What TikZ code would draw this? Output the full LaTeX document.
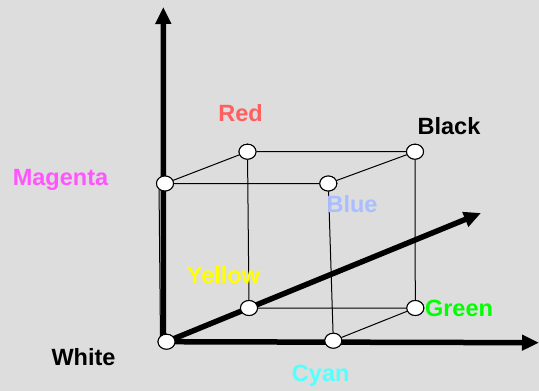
\documentclass[tikz,border=0pt]{standalone}
\usepackage{fontspec}
\setmainfont{Liberation Sans}
\usepackage{tikz}
\usetikzlibrary{arrows.meta, shapes.geometric, positioning}
\definecolor{nen}{RGB}{221,221,221}
\definecolor{mauDo}{RGB}{255,95,95}
\definecolor{mauHong}{RGB}{255,85,255}
\definecolor{mauLam}{RGB}{170,190,255}
\definecolor{mauVang}{RGB}{255,255,0}
\definecolor{mauLuc}{RGB}{0,255,0}
\definecolor{mauXanh}{RGB}{85,255,255}

\begin{document}
\begin{tikzpicture}[x=1pt, y=-1pt,
    dinh/.style={ellipse, draw, fill=white, line width=1pt, minimum width=17pt, minimum height=15pt, inner sep=0pt},
    canh/.style={line width=1pt},
    truc/.style={line width=5.5pt, -{Triangle[length=17pt,width=15pt]}},
    nhan/.style={anchor=base, font=\fontsize{23.5}{28}\selectfont\bfseries}]

            % Nền
            \fill[nen] (0,0) rectangle (539,391);
            \useasboundingbox (0,0) rectangle (539,391);

            % Đỉnh của hình lập phương
            \node[dinh] (W) at (166.5,341.7) {}; % White
            \node[dinh] (C) at (333.3,340.7) {}; % Cyan
            \node[dinh] (Y) at (249,308) {};     % Yellow
            \node[dinh] (G) at (415.3,308) {};   % Green
            \node[dinh] (M) at (165,183.5) {};   % Magenta
            \node[dinh] (B) at (328.3,183.5) {}; % Blue
            \node[dinh] (R) at (247.5,151.7) {}; % Red
            \node[dinh] (K) at (415,151.7) {};   % Black

            % Điểm cuối của trục
            \coordinate (tx) at (539,342.7);
            \coordinate (ty) at (163.3,7);
            \coordinate (tz) at (481,213);

            % Vẽ các cạnh
            \draw[canh] (M) -- (R) -- (K) -- (B) -- (M);
            \draw[canh] (R) -- (Y) -- (G) -- (K);
            \draw[canh] (B) -- (C) -- (G);
            \draw[canh] ([xshift=-6pt]M.center) -- ([xshift=-6pt]W.center);

            % Vẽ trục tọa độ
            \draw[truc] (W.center) -- (tx); % Trục x
            \draw[truc] ([xshift=-3pt]W.center) -- (ty); % Trục y
            \draw[truc] (W.center) -- (tz); % Trục z

            % Vẽ lại các đỉnh phía trên
            \foreach \d in {W,C,Y,G,M,B,R,K}
                \node[dinh] at (\d) {};

            % Nhãn màu
            \node[nhan, mauDo]   (lR) at (240.5,121.7) {Red};
            \node[nhan]          (lK) at (449,134) {Black};
            \node[nhan, mauHong] (lM) at (60.5,185) {Magenta};
            \node[nhan, mauLam]  (lB) at (352,212) {Blue};
            \node[nhan, mauVang] (lY) at (223.5,283.3) {Yellow};
            \node[nhan, mauLuc]  (lG) at (459,316.7) {Green};
            \node[nhan]          (lW) at (83.5,365.7) {White};
            \node[nhan, mauXanh] (lC) at (320.7,381) {Cyan};

            \end{tikzpicture}
\end{document}
